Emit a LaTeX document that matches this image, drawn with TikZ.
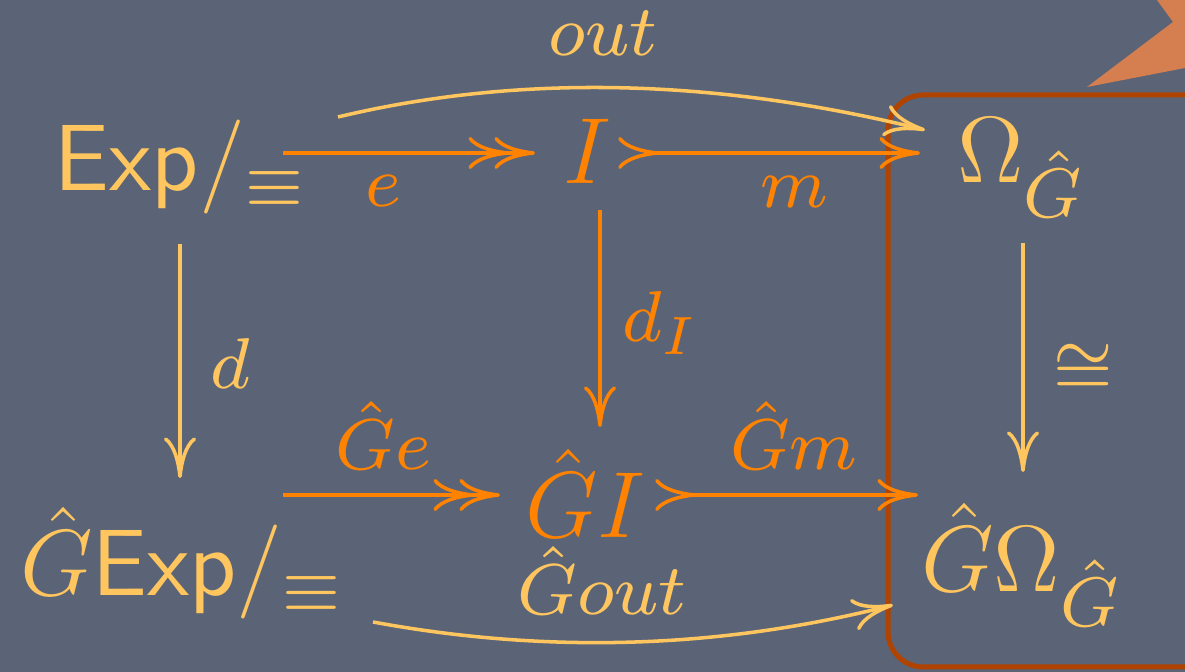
\documentclass[tikz,border=0pt]{standalone}
\usetikzlibrary{arrows.meta,calc}
\definecolor{bg}{HTML}{5B6476}
\definecolor{lite}{HTML}{FFC660}
\definecolor{orng}{HTML}{FF8200}
\definecolor{rust}{HTML}{B04300}
\definecolor{burst}{HTML}{D57F50}
\newcommand{\sbig}[1]{\scalebox{1.12}{$\scriptstyle #1$}}
\newcommand{\lbig}[1]{\scalebox{1.15}{#1}}
\tikzset{
  obj/.style={inner sep=0pt, outer sep=0pt, anchor=base west, font=\large},
  lab/.style={inner sep=0pt, outer sep=0pt, anchor=base, font=\footnotesize},
  cmh/.tip={Computer Modern Rightarrow[length=5.2pt,width=4.1pt]},
  arr/.style={line width=0.45pt, -{cmh}},
  epi/.style={line width=0.45pt, -{cmh[sep=-1.9pt] cmh}},
  mono/.style={line width=0.45pt, {cmh[reversed]}-{cmh}},
}
\begin{document}
\begin{tikzpicture}[x=0.1277pt,y=-0.1277pt]
\useasboundingbox (0,0) rectangle (1185,672);
\fill[bg] (0,0) rectangle (1185,672);
\begin{scope}
\clip (0,0) rectangle (1185,672);
\fill[burst] (1157,0) -- (1173,22) -- (1087,87) -- (1185,68) -- (1185,0) -- cycle;
\draw[rust, line width=0.64pt, rounded corners=4.5pt] (888,95) rectangle (1240,667);
\end{scope}
% objects
\node[obj, text=lite] (A) at (55,191) {$\mathsf{Exp}/_{\sbig{\equiv}}$};
\node[obj, text=orng] (B) at (563,184) {$I$};
\node[obj, text=lite] (C) at (957,183) {$\Omega_{\sbig{\hat G}}$};
\node[obj, text=lite] (D) at (20,596) {$\hat G\mathsf{Exp}/_{\sbig{\equiv}}$};
\node[obj, text=orng] (E) at (525,538) {$\hat G I$};
\node[obj, text=lite] (F) at (921,592) {$\hat G\Omega_{\sbig{\hat G}}$};
% arrows
\draw[epi, orng] ($(A.base west)+(228,-38)$) -- ($(B.base west)+(-28,-31)$);
\draw[mono, orng] ($(B.base west)+(55,-31)$) -- ($(C.base west)+(-37,-30)$);
\draw[arr, lite] ($(A.base west)+(283,-74)$) .. controls +(180,-43) and +(-211,-52) .. ($(C.base west)+(-32,-53)$);
\draw[arr, lite] ($(A.base west)+(125,53)$) -- ($(D.base west)+(160,-118)$);
\draw[arr, orng] ($(B.base west)+(37,26)$) -- ($(E.base west)+(75,-111)$);
\draw[arr, lite] ($(C.base west)+(66,60)$) -- ($(F.base west)+(102,-120)$);
\draw[epi, orng] ($(D.base west)+(263,-101)$) -- ($(E.base west)+(-25,-43)$);
\draw[mono, orng] ($(E.base west)+(130,-43)$) -- ($(F.base west)+(-3,-97)$);
\draw[arr, lite] ($(D.base west)+(353,26)$) .. controls +(173,32) and +(-173,44) .. ($(F.base west)+(-28,13)$);
% labels
\node[lab, text=lite] (lout) at (603,56) {\lbig{$out$}};
\node[lab, text=orng] (le) at (383,207) {\lbig{$e$}};
\node[lab, text=orng] (lm) at (794,208) {\lbig{$m$}};
\node[lab, text=lite] (ld) at (230,389) {\lbig{$d$}};
\node[lab, text=orng] (ldI) at (661,342) {\lbig{$d_I$}};
\node[lab, text=lite] (liso) at (1083,390) {\lbig{$\cong$}};
\node[lab, text=orng] (lGe) at (383,470) {\lbig{$\hat Ge$}};
\node[lab, text=orng] (lGm) at (794,470) {\lbig{$\hat Gm$}};
\node[lab, text=lite] (lGout) at (602,615) {\lbig{$\hat Gout$}};
\end{tikzpicture}
\end{document}
